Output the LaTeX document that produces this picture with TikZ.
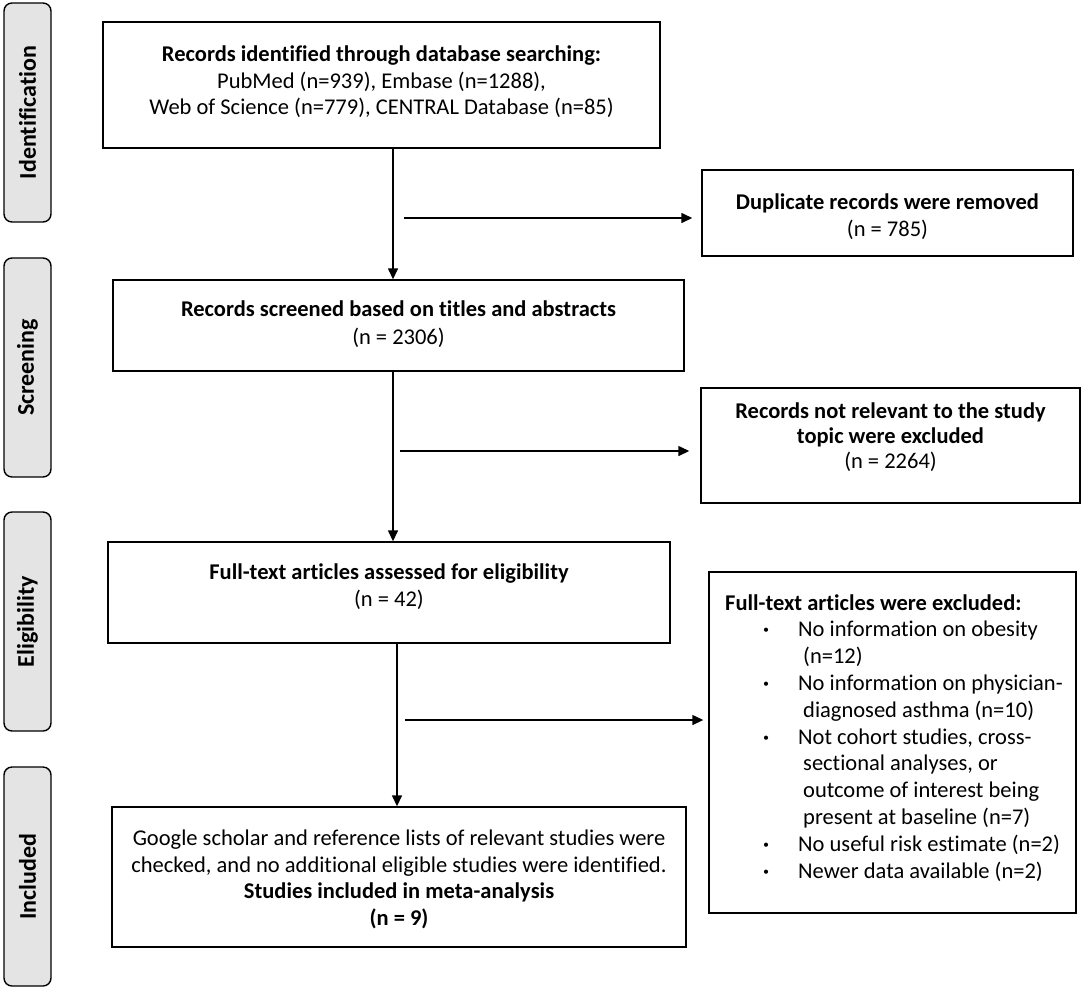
\documentclass[tikz,border=0pt]{standalone}
\usepackage{fontspec}
\setmainfont{Carlito}[Ligatures=NoCommon]
\usetikzlibrary{arrows.meta}
\definecolor{tabgray}{HTML}{E4E4E4}
\begin{document}
\begin{tikzpicture}[x=1pt,y=-1pt,
  box/.style={draw=black, line width=1.4pt, inner sep=0pt},
  tabbox/.style={draw=black, line width=1.4pt, fill=tabgray, rounded corners=8pt, inner sep=0pt, minimum width=47pt, minimum height=219pt},
  tablabel/.style={rotate=90, font=\fontsize{24}{28}\selectfont\bfseries},
  txt/.style={inner sep=0pt, align=center, anchor=north},
  arr/.style={line width=1.4pt, -{Triangle[length=11pt,width=10pt]}}
]
\useasboundingbox (0,0) rectangle (1084,989);

% phase tabs
\node[tabbox] (tid) at (27.5,112.5) {};
\node[tablabel] (tidl) at (tid.center) {Identification};
\node[tabbox] (tsc) at (27.5,367.5) {};
\node[tablabel] (tscl) at (tsc.center) {Screening};
\node[tabbox] (tel) at (27.5,621.5) {};
\node[tablabel] (tell) at (tel.center) {Eligibility};
\node[tabbox] (tin) at (27.5,876.5) {};
\node[tablabel] (tinl) at (tin.center) {Included};

% main boxes
\node[box, minimum width=557pt, minimum height=126pt] (b1) at (381.5,85) {};
\node[txt, font=\fontsize{22.5}{26.5}\selectfont] (b1t) at (381.5,46)
  {\textbf{Records identified through database searching:}\\
   PubMed (n=939), Embase (n=1288),\\
   Web of Science (n=779), CENTRAL Database (n=85)};

\node[box, minimum width=371pt, minimum height=86pt] (dup) at (887.5,213) {};
\node[txt, font=\fontsize{22.5}{27}\selectfont] (dupt) at (887.5,194)
  {\textbf{Duplicate records were removed}\\ (n = 785)};

\node[box, minimum width=571pt, minimum height=91pt] (b2) at (398.5,325.5) {};
\node[txt, font=\fontsize{22.5}{27.5}\selectfont] (b2t) at (398.5,301)
  {\textbf{Records screened based on titles and abstracts}\\ (n = 2306)};

\node[box, minimum width=379pt, minimum height=115pt] (nr) at (890.5,445.5) {};
\node[txt, font=\fontsize{22.5}{25}\selectfont] (nrt) at (890.5,403)
  {\textbf{Records not relevant to the study}\\ \textbf{topic were excluded}\\ (n = 2264)};

\node[box, minimum width=562pt, minimum height=101pt] (b3) at (389,592.5) {};
\node[txt, font=\fontsize{22.5}{26}\selectfont] (b3t) at (389,564)
  {\textbf{Full-text articles assessed for eligibility}\\ (n = 42)};

\node[box, minimum width=367pt, minimum height=341pt] (ex) at (892.5,742.5) {};
\node[inner sep=0pt, align=left, anchor=north west, font=\fontsize{22.5}{26.8}\selectfont] (ext) at (725,594)
  {\textbf{Full-text articles were excluded:}\\
   \hspace*{38pt}\makebox[35pt][l]{\textbf{·}}No information on obesity\\
   \hspace*{78pt}(n=12)\\
   \hspace*{38pt}\makebox[35pt][l]{\textbf{·}}No information on physician-\\
   \hspace*{78pt}diagnosed asthma (n=10)\\
   \hspace*{38pt}\makebox[35pt][l]{\textbf{·}}Not cohort studies, cross-\\
   \hspace*{78pt}sectional analyses, or\\
   \hspace*{78pt}outcome of interest being\\
   \hspace*{78pt}present at baseline (n=7)\\
   \hspace*{38pt}\makebox[35pt][l]{\textbf{·}}No useful risk estimate (n=2)\\
   \hspace*{38pt}\makebox[35pt][l]{\textbf{·}}Newer data available (n=2)};

\node[box, minimum width=574pt, minimum height=140pt] (b4) at (399,877) {};
\node[txt, font=\fontsize{22.5}{26.5}\selectfont] (b4t) at (399,830)
  {Google scholar and reference lists of relevant studies were\\
   checked, and no additional eligible studies were identified.\\
   \textbf{Studies included in meta-analysis}\\
   \textbf{(n = 9)}};

% arrow guide coordinates
\coordinate (v1) at (393,0);
\coordinate (v2) at (393,0);
\coordinate (v3) at (397,0);
\coordinate (h1) at (404,218);
\coordinate (h2) at (400,451);
\coordinate (h3) at (405,720);

% vertical arrows
\draw[arr] (b1.south -| v1) -- (b2.north -| v1);
\draw[arr] (b2.south -| v2) -- (b3.north -| v2);
\draw[arr] (b3.south -| v3) -- (b4.north -| v3);

% side arrows
\draw[arr] (h1) -- ([xshift=-9pt]h1 -| dup.west);
\draw[arr] (h2) -- ([xshift=-11pt]h2 -| nr.west);
\draw[arr] (h3) -- ([xshift=-5pt]h3 -| ex.west);
\end{tikzpicture}
\end{document}
